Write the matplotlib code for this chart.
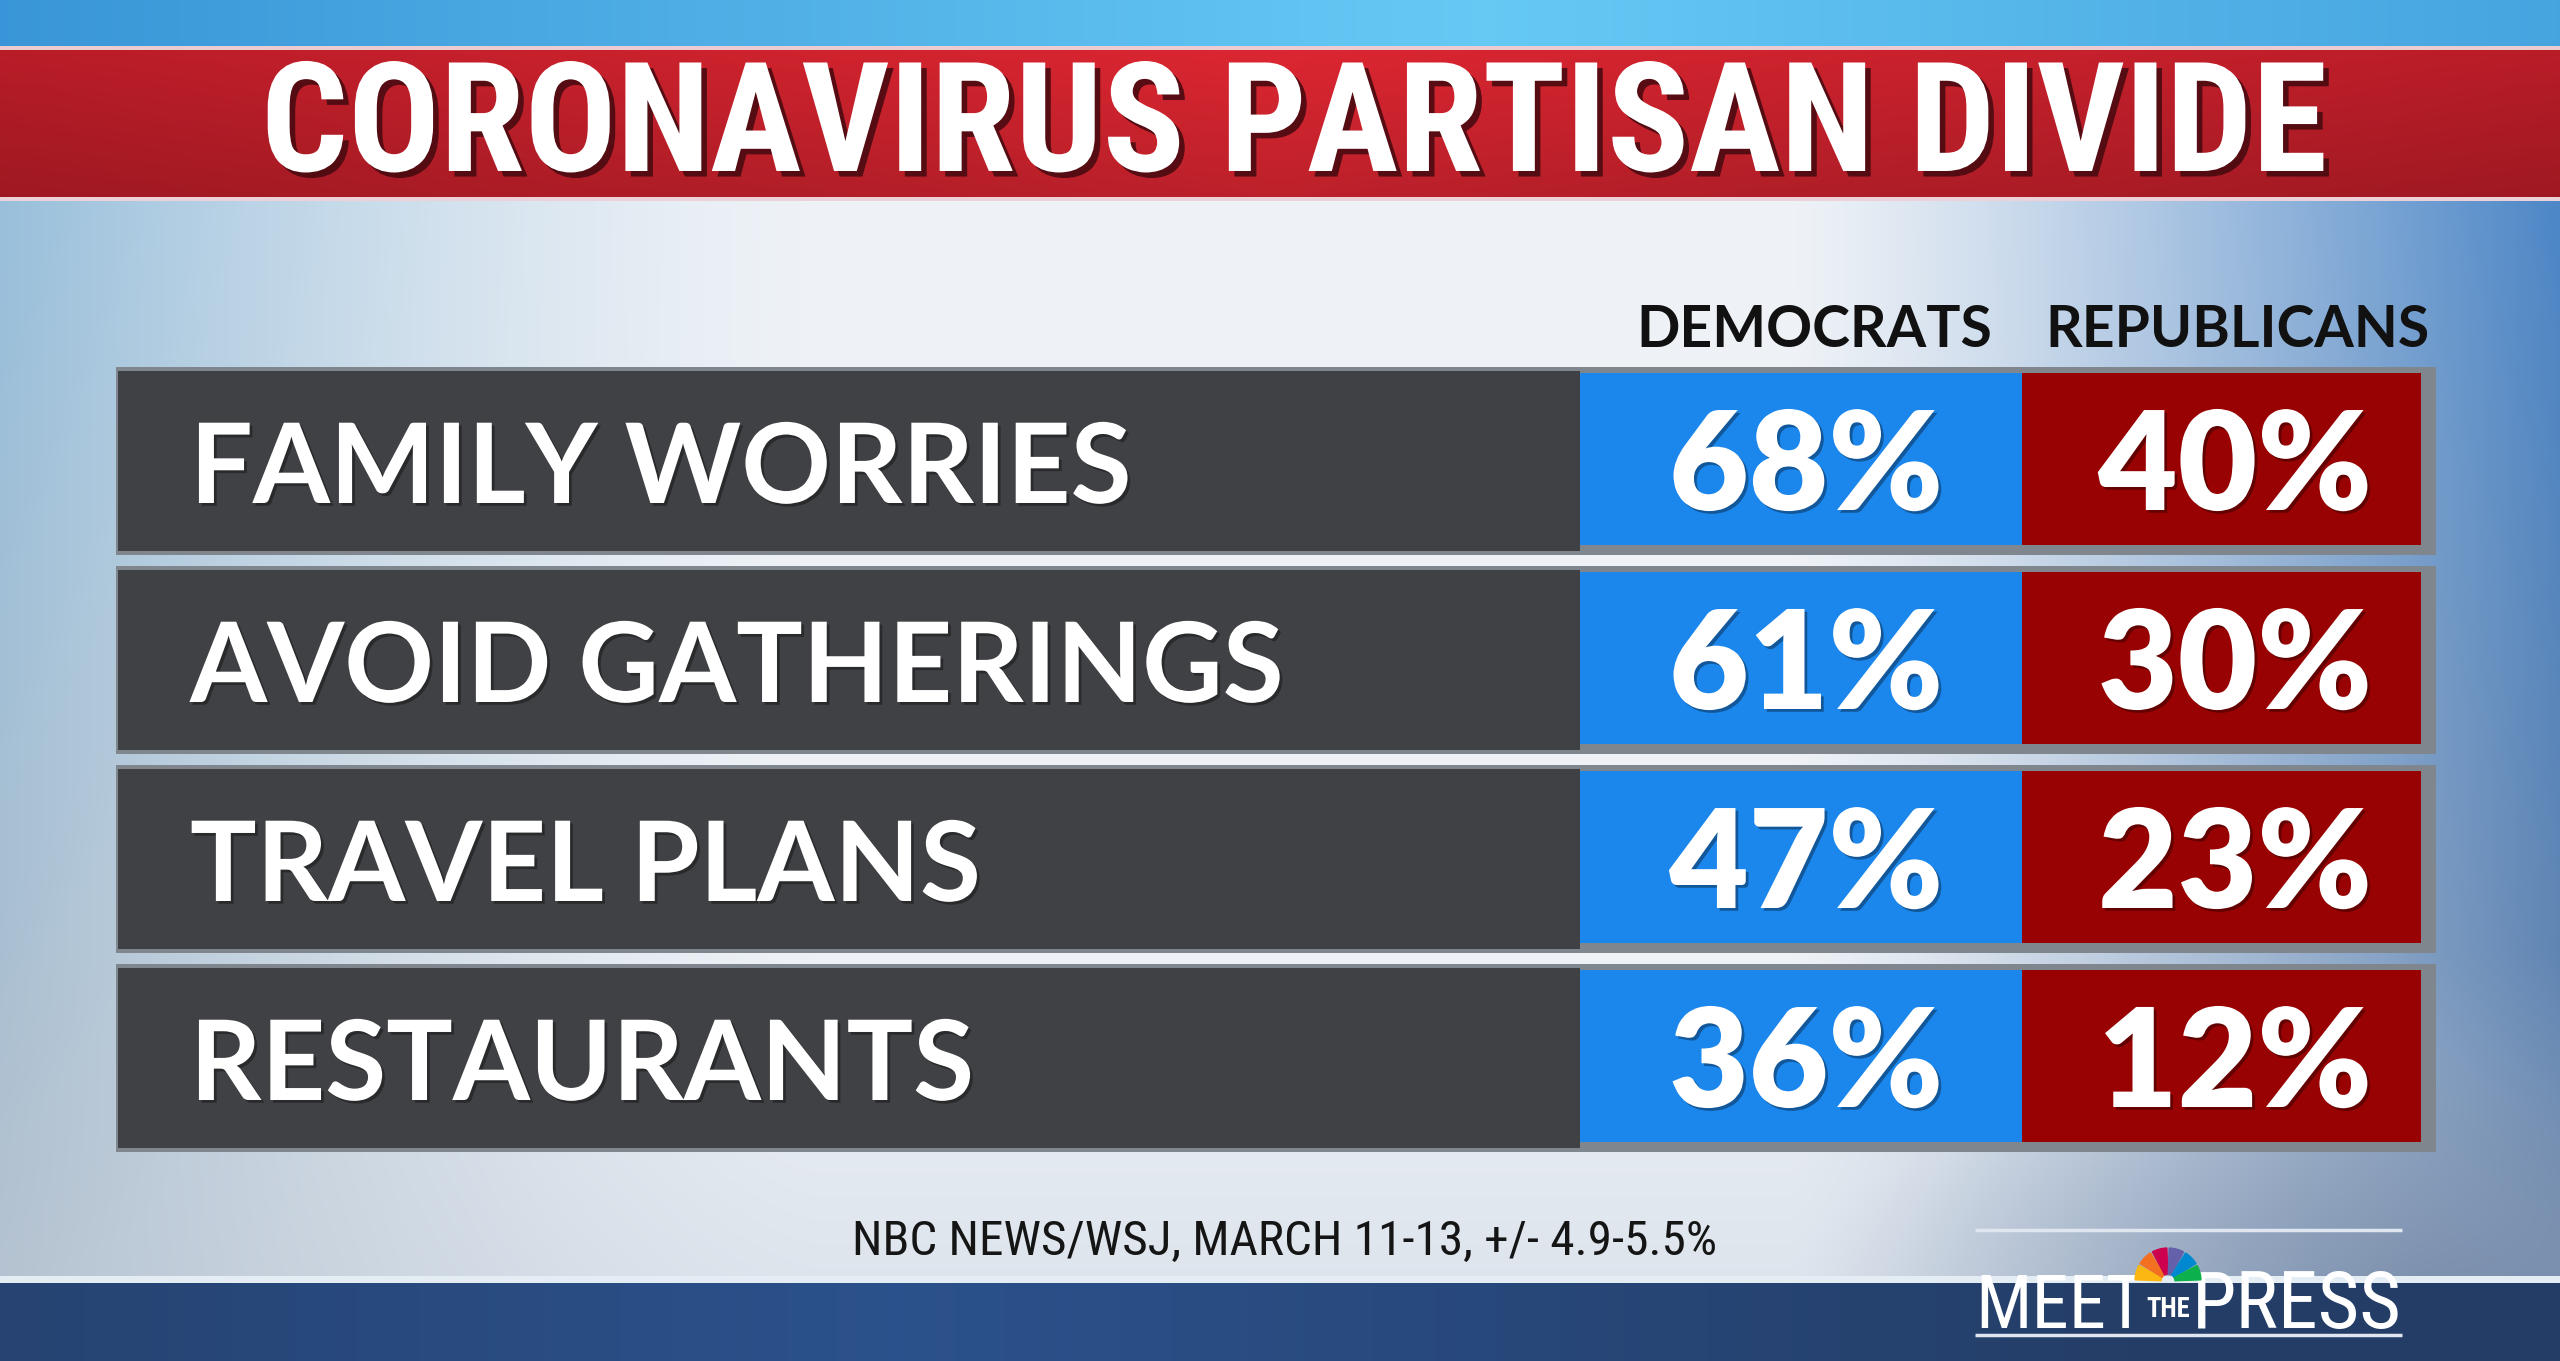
import os
import numpy as np
import matplotlib
matplotlib.use('Agg')
import matplotlib.pyplot as plt
import matplotlib.patheffects as pe
from matplotlib import font_manager
from matplotlib.font_manager import FontProperties
from matplotlib.patches import Wedge

title = 'CORONAVIRUS PARTISAN DIVIDE'
columns = ['DEMOCRATS', 'REPUBLICANS']
categories = ['FAMILY WORRIES', 'AVOID GATHERINGS', 'TRAVEL PLANS', 'RESTAURANTS']
democrats = [68, 61, 47, 36]
republicans = [40, 30, 23, 12]
source = 'NBC NEWS/WSJ, MARCH 11-13, +/- 4.9-5.5%'

W, H = 2560, 1361

# look fonts up by file name so condensed cuts can be used when present
files = {os.path.splitext(os.path.basename(f.fname))[0].lower(): f.fname
         for f in font_manager.fontManager.ttflist}


def font(*stems, family='DejaVu Sans', weight='bold'):
    for s in stems:
        if s.lower() in files:
            return FontProperties(fname=files[s.lower()])
    return FontProperties(family=family, weight=weight)


title_font = font('NotoSans-ExtraCondensedBlack', 'NotoSans-ExtraCondensedBold', 'NotoSans-CondensedBlack',
                  'NotoSans-CondensedBold', 'LiberationSansNarrow-Bold', 'RobotoCondensed-Bold',
                  'DejaVuSansCondensed-Bold', 'OpenSans-CondensedBold')
logo_font = font('NotoSans-ExtraCondensedMedium', 'NotoSans-ExtraCondensed', 'NotoSans-CondensedMedium',
                 'NotoSans-Condensed', 'LiberationSansNarrow-Regular', 'RobotoCondensed-Regular',
                 'DejaVuSansCondensed', weight='normal')
note_font = font('NotoSans-CondensedMedium', 'NotoSans-Condensed', 'LiberationSansNarrow-Regular',
                 'RobotoCondensed-Regular', 'DejaVuSansCondensed', weight='normal')
label_font = font('Lato-Bold', family='Lato')
number_font = font('Lato-Black', 'Lato-Heavy', 'Lato-Bold', family='Lato')
header_font = font('Lato-Bold', family='Lato')


def background():
    px = (np.arange(W) + 0.5) / W
    py = (np.arange(H) + 0.5) / H
    X, Y = np.meshgrid(px, py)
    Yc = Y[..., None]
    img = np.ones((H, W, 3)) * np.array([0.935, 0.95, 0.968])
    # bluish left edge
    wl = (np.clip(1 - X / 0.32, 0, 1) ** 1.4)[..., None]
    left = np.array([0.58, 0.75, 0.87]) * (1 - Yc) + np.array([0.70, 0.75, 0.80]) * Yc
    img = img * (1 - wl) + left * wl
    # deeper blue right edge
    wr = (np.clip((X - 0.70) / 0.30, 0, 1) ** 1.2)[..., None]
    right = np.array([0.28, 0.53, 0.80]) * (1 - Yc) + np.array([0.42, 0.52, 0.66]) * Yc
    img = img * (1 - wr) + right * wr
    # greyer towards the bottom
    wb = (np.clip((Y - 0.70) / 0.25, 0, 1) * 0.35)[..., None]
    img = img * (1 - wb) + np.array([0.74, 0.79, 0.85]) * wb
    # slate shade behind the logo corner
    d = np.sqrt(((X - 0.95) / 0.25) ** 2 + ((Y - 0.95) / 0.18) ** 2)
    wc = (np.clip(1 - d, 0, 1) ** 1.2 * 0.75)[..., None]
    img = img * (1 - wc) + np.array([0.45, 0.53, 0.65]) * wc

    # sky band on top
    top = np.clip(1 - np.abs(X - 0.58) / 0.6, 0, 1)[..., None]
    sky = np.array([0.22, 0.58, 0.84]) * (1 - top) + np.array([0.40, 0.79, 0.96]) * top
    img[:48] = sky[:48]

    # red banner
    r = np.clip(1 - np.abs(X - 0.5) / 0.7, 0, 1)[..., None]
    red = np.array([0.62, 0.09, 0.13]) * (1 - r) + np.array([0.80, 0.14, 0.18]) * r
    vy = np.clip((Y * H - 50) / 150, 0, 1)[..., None]
    red = red * (1.08 - 0.16 * vy)
    img[50:197] = np.clip(red[50:197], 0, 1)
    img[46:50] = [0.93, 0.80, 0.82]
    img[197:201] = [0.93, 0.82, 0.85]

    # dark blue band at the bottom
    b = np.clip(1 - np.abs(X - 0.35) / 0.5, 0, 1)[..., None]
    navy = np.array([0.14, 0.24, 0.40]) * (1 - b) + np.array([0.17, 0.32, 0.55]) * b
    img[1283:] = navy[1283:]
    img[1276:1283] = [0.90, 0.93, 0.96]
    return img


fig = plt.figure(figsize=(W / 100, H / 100), dpi=100)
ax = fig.add_axes([0, 0, 1, 1])
ax.set_xlim(0, W)
ax.set_ylim(H, 0)
ax.axis('off')
ax.imshow(background(), extent=(0, W, H, 0), aspect='auto', zorder=0)

renderer = fig.canvas.get_renderer()


def fit(t, width, cap=None):
    # scale a text to a target width, but never taller than cap (in points)
    bb = t.get_window_extent(renderer)
    size = t.get_fontsize() * width / bb.width
    if cap is not None:
        size = min(size, cap)
    t.set_fontsize(size)
    return size


t = ax.text(1294, 171, title, color='white', ha='center', va='baseline', fontproperties=title_font,
            fontsize=98, zorder=3,
            path_effects=[pe.withSimplePatchShadow(offset=(4, -4), shadow_rgbFace='#4a0a10', alpha=0.9)])
fit(t, 2066, cap=140)

# column headers
for x, lab in zip([1814, 2237], columns):
    ax.text(x, 347, lab, ha='center', va='baseline', fontproperties=header_font, fontsize=41,
            color='#111111', zorder=3)

# table rows
row_top = 373 + 199 * np.arange(len(categories))
centers = row_top + 86
ax.barh(centers + 2, width=2436 - 116, left=116, height=188, color='#80868e', zorder=2)
ax.barh(centers + 2, width=1580 - 118, left=118, height=180, color='#404144', zorder=2)
ax.barh(centers, width=2022 - 1580, left=1580, height=172, color='#1b87ec', zorder=2)
ax.barh(centers, width=2421 - 2022, left=2022, height=172, color='#990202', zorder=2)

shadow = [pe.withSimplePatchShadow(offset=(2, -2), shadow_rgbFace='black', alpha=0.35)]
labels, dem_texts, rep_texts = [], [], []
for y, cat, d, r in zip(row_top, categories, democrats, republicans):
    labels.append(ax.text(190, y + 130, cat, ha='left', va='baseline', fontproperties=label_font,
                          fontsize=88, color='white', zorder=4, path_effects=shadow))
    dem_texts.append(ax.text(1943, y + 137, f'{d}%', ha='right', va='baseline', fontproperties=number_font,
                             fontsize=108, color='white', zorder=4, path_effects=shadow))
    rep_texts.append(ax.text(2372, y + 137, f'{r}%', ha='right', va='baseline', fontproperties=number_font,
                             fontsize=108, color='white', zorder=4, path_effects=shadow))

label_size = fit(labels[0], 942)
for t in labels:
    t.set_fontsize(label_size)
num_size = fit(dem_texts[0], 274, cap=112)
for t in dem_texts + rep_texts:
    t.set_fontsize(num_size)

# source line
t = ax.text(1285, 1255, source, ha='center', va='baseline', fontproperties=note_font, fontsize=30,
            color='#151515', zorder=3)
fit(t, 867, cap=40)

# Meet the Press logo
ax.hlines([1230, 1335], 1975, 2402, color='#dfe6ef', lw=2.5, zorder=3)
t = ax.text(1975, 1328, 'MEET', ha='left', va='baseline', fontproperties=logo_font, fontsize=88,
            color='white', zorder=3)
fit(t, 170, cap=90)
t = ax.text(2402, 1328, 'PRESS', ha='right', va='baseline', fontproperties=logo_font, fontsize=88,
            color='white', zorder=3)
fit(t, 210, cap=90)
t = ax.text(2168, 1317, 'THE', ha='center', va='baseline', fontproperties=title_font, fontsize=34,
            color='white', zorder=3)
fit(t, 44, cap=36)
feathers = ['#fcb711', '#f37021', '#cc004c', '#6460aa', '#0089d0', '#0db14b']
for i, c in enumerate(feathers):
    ax.add_patch(Wedge((2168, 1281), 33, 180 + 30 * i + 2, 180 + 30 * (i + 1) - 2,
                       width=26, color=c, zorder=3))

fig.savefig('out.png', dpi=100)
